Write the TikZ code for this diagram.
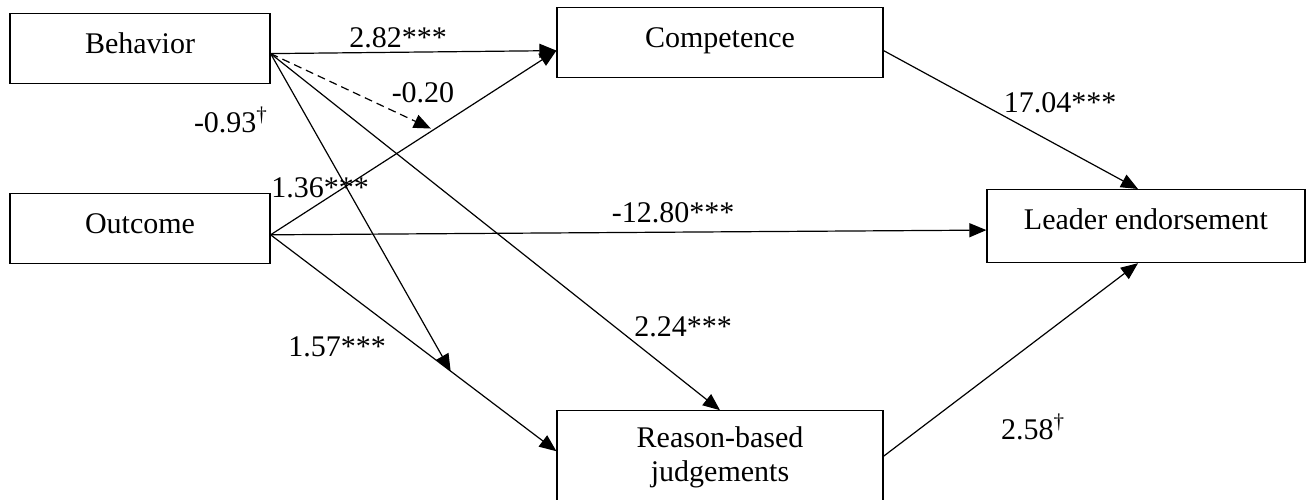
\documentclass[tikz,border=0pt]{standalone}
\usepackage{fontspec}
\setmainfont{Liberation Serif}
\usetikzlibrary{arrows.meta,positioning}

\begin{document}
\begin{tikzpicture}[
    x=0.5pt, y=-0.5pt,
    font=\fontsize{15pt}{17pt}\selectfont,
    varbox/.style={draw, line width=0.6pt, inner xsep=0pt, inner ysep=0pt, align=center, text height=20pt, text depth=15pt},
    coef/.style={inner sep=0pt},
    arr/.style={-{Triangle[length=8.5pt,width=7pt]}, line width=0.6pt},
    modarr/.style={arr, dash pattern=on 4pt off 2.5pt, shorten >=1.5pt}
]
\useasboundingbox (0,0) rectangle (1312,499);

\node[varbox, minimum width=130pt, anchor=north] (beh) at (140,13) {Behavior};
\node[varbox, minimum width=130pt, below=54.5pt of beh] (out) {Outcome};
\node[varbox, minimum width=163pt, anchor=north] (comp) at (720,7) {Competence};
\node[varbox, minimum width=159pt, text depth=16.5pt, anchor=north] (lead) at (1146,189) {Leader endorsement};
\node[draw, line width=0.6pt, minimum width=163pt, inner ysep=8pt, align=center, below=166pt of comp] (reason) {Reason-based\\judgements\\\mbox{}};

\coordinate (bsrc) at ([yshift=-2.5pt]beh.east);
\coordinate (osrc) at ([yshift=-3pt]out.east);
\coordinate (cin) at ([yshift=-4pt]comp.west);
\coordinate (rin) at ([yshift=-20.5pt]reason.north west);

\draw[arr] (bsrc) -- (cin);
\draw[arr] (osrc) -- (cin) coordinate[pos=0.57] (m1);
\draw[arr] (osrc) -- (rin) coordinate[pos=0.63] (m2);
\draw[arr] (osrc) -- ([yshift=-2pt]lead.west);
\draw[arr] (bsrc) -- (reason.north);
\draw[modarr] (bsrc) -- (m1);
\draw[arr] (bsrc) -- (m2);
\draw[arr] ([yshift=-4pt]comp.east) -- ([xshift=-4pt]lead.north);
\draw[arr] ([yshift=-23pt]reason.north east) -- ([xshift=-4pt]lead.south);

\node[coef] (c282) at (398,38) {2.82***};
\node[coef] (c020) at (423,93) {-0.20};
\node[coef] (c093) at (231,120) {-0.93\textsuperscript{†}};
\node[coef] (c136) at (320,188) {1.36***};
\node[coef] (c1280) at (673,213) {-12.80***};
\node[coef] (c224) at (683,327) {2.24***};
\node[coef] (c157) at (337,347) {1.57***};
\node[coef] (c1704) at (1060,103) {17.04***};
\node[coef] (c258) at (1033,427) {2.58\textsuperscript{†}};
\end{tikzpicture}
\end{document}
